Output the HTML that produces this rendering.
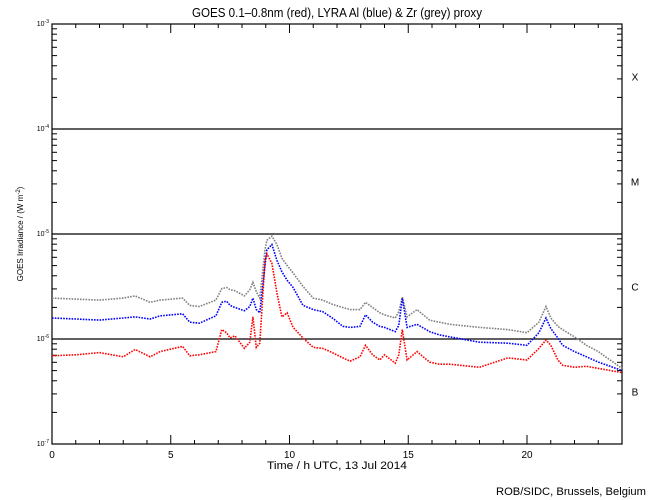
<!DOCTYPE html>
<html><head><meta charset="utf-8"><style>
body{margin:0;background:#fff}
svg{display:block;font-family:"Liberation Sans",sans-serif}
</style></head><body>
<svg id="chart" width="650" height="500" viewBox="0 0 650 500" xmlns="http://www.w3.org/2000/svg">
<rect width="650" height="500" fill="#fff"/>
<text x="337" y="17" font-size="12.5" text-anchor="middle" textLength="290" lengthAdjust="spacingAndGlyphs">GOES 0.1–0.8nm (red), LYRA Al (blue) &amp; Zr (grey) proxy</text>
<g id="axes"></g>
<g id="series"></g>
<text x="337" y="469" font-size="11" text-anchor="middle" textLength="140" lengthAdjust="spacingAndGlyphs">Time / h UTC, 13 Jul 2014</text>
<text transform="translate(23,234) rotate(-90)" font-size="8" text-anchor="middle">GOES Irradiance / (W m<tspan dy="-3" font-size="6">-2</tspan><tspan dy="3">)</tspan></text>
<text x="646" y="495" font-size="11" text-anchor="end" textLength="150" lengthAdjust="spacingAndGlyphs">ROB/SIDC, Brussels, Belgium</text>
</svg>
<script>
const times=[0,1,2,3,3.5,4.13,4.55,5.5,5.8,6.2,6.9,7.15,7.35,7.5,7.7,8.1,8.33,8.46,8.6,8.75,8.97,9.05,9.26,9.47,9.68,9.9,10.15,10.57,11,11.4,11.8,12.25,12.55,12.97,13.2,13.5,13.8,14.0,14.45,14.6,14.75,14.95,15.37,15.9,16.3,16.75,18,19.2,20,20.5,20.8,21,21.3,21.5,22,22.5,23,23.5,24];
// log10 of irradiance (W m^-2)
const goesRed=[-6.16,-6.15,-6.13,-6.17,-6.10,-6.17,-6.12,-6.07,-6.16,-6.15,-6.12,-5.91,-5.94,-5.99,-5.97,-6.09,-6.03,-5.79,-6.08,-6.04,-5.25,-5.19,-5.28,-5.56,-5.79,-5.75,-5.89,-5.99,-6.08,-6.09,-6.13,-6.18,-6.21,-6.17,-6.06,-6.15,-6.20,-6.15,-6.23,-6.15,-5.91,-6.20,-6.12,-6.22,-6.24,-6.24,-6.27,-6.18,-6.20,-6.09,-6.01,-6.06,-6.20,-6.25,-6.27,-6.26,-6.28,-6.30,-6.32];
const lyraAl=[-5.80,-5.81,-5.82,-5.80,-5.79,-5.81,-5.78,-5.76,-5.84,-5.85,-5.78,-5.65,-5.64,-5.68,-5.70,-5.73,-5.69,-5.61,-5.72,-5.75,-5.30,-5.15,-5.10,-5.25,-5.36,-5.44,-5.51,-5.68,-5.72,-5.74,-5.80,-5.88,-5.89,-5.88,-5.77,-5.84,-5.88,-5.89,-5.93,-5.87,-5.61,-5.89,-5.86,-5.93,-5.96,-5.98,-6.03,-6.04,-6.06,-5.94,-5.80,-5.90,-5.99,-6.06,-6.12,-6.17,-6.22,-6.26,-6.30];
const lyraZr=[-5.61,-5.62,-5.63,-5.61,-5.59,-5.65,-5.63,-5.61,-5.68,-5.69,-5.63,-5.52,-5.51,-5.53,-5.54,-5.59,-5.53,-5.46,-5.55,-5.61,-5.15,-5.06,-5.02,-5.10,-5.23,-5.30,-5.37,-5.50,-5.61,-5.63,-5.67,-5.70,-5.72,-5.72,-5.65,-5.70,-5.75,-5.77,-5.80,-5.74,-5.60,-5.79,-5.72,-5.82,-5.84,-5.86,-5.89,-5.91,-5.94,-5.84,-5.69,-5.80,-5.88,-5.91,-5.98,-6.06,-6.12,-6.20,-6.28];
const xTickLabels=[0,5,10,15,20];
const yDecades=[-3,-4,-5,-6,-7];
const classLabels=["X","M","C","B"];

const NS="http://www.w3.org/2000/svg";
const L=52,R=622,T=24,B=444;
const xs=t=>L+(R-L)*t/24;
const ys=lg=>T+(-3-lg)*(B-T)/4;
const axes=document.getElementById('axes'),ser=document.getElementById('series');
function mk(tag,attrs,parent){const e=document.createElementNS(NS,tag);for(const k in attrs)e.setAttribute(k,attrs[k]);parent.appendChild(e);return e;}
function line(x1,y1,x2,y2,name,w){const e=mk('line',{x1,y1,x2,y2,stroke:'#000','stroke-width':w||1},axes);

return e;}
// frame
const fr=mk('rect',{x:L,y:T,width:R-L,height:B-T,fill:'none',stroke:'#000','stroke-width':1.2},axes);


// flare class lines
[-4,-5,-6].forEach(d=>line(L,ys(d),R,ys(d),'class-threshold-line',1.3));
// y ticks
yDecades.forEach(d=>{
  line(L,ys(d),L+10,ys(d),'y-major-tick');line(R-10,ys(d),R,ys(d),'y-major-tick');
  if(d>-7)for(let m=2;m<10;m++){const y=ys(d-1+Math.log10(m));line(L,y,L+5,y,'y-minor-tick');line(R-5,y,R,y,'y-minor-tick');}
  const t=mk('text',{x:L-3,y:ys(d)+2,'font-size':7,'text-anchor':'end'},axes);
  
  
  t.innerHTML='10<tspan dy="-3" font-size="5">'+d+'</tspan>';
});
classLabels.forEach((c,i)=>{const t=mk('text',{x:635,y:ys(-3.5-i)+4,'font-size':10,'text-anchor':'middle'},axes);


t.textContent=c;});
// x ticks
for(let h=1;h<24;h++){const maj=h%5===0,len=maj?9:4;line(xs(h),B,xs(h),B-len,'x-tick');line(xs(h),T,xs(h),T+len,'x-tick');}
xTickLabels.forEach(v=>{const t=mk('text',{x:xs(v),y:458,'font-size':10,'text-anchor':'middle'},axes);


t.textContent=v;});
// series
function draw(vals,color,name){
  const pts=times.map((t,i)=>xs(t).toFixed(1)+','+ys(vals[i]).toFixed(1)).join(' ');
  const p=mk('polyline',{points:pts,fill:'none',stroke:color,'stroke-width':1.6,'stroke-dasharray':'1.6 1.2'},ser);
  
  
}
draw(lyraZr,'#808080','lyra-zr-series');
draw(lyraAl,'#0000ff','lyra-al-series');
draw(goesRed,'#ff0000','goes-xray-series');
</script>
</body></html>
